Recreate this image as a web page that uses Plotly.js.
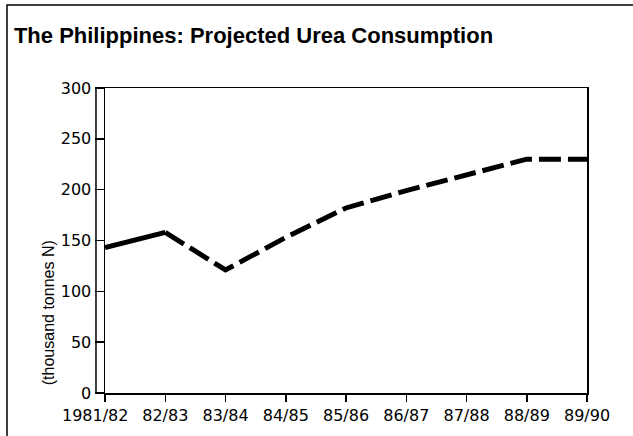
<!DOCTYPE html>
<html>
<head>
<meta charset="utf-8">
<script src="https://cdn.plot.ly/plotly-3.0.1.min.js"></script>
<style>html,body{margin:0;padding:0;background:#fff;}#chart{width:633px;height:436px;}</style>
</head>
<body>
<div id="chart"></div>
<script>
const seasons = ["1981/82","82/83","83/84","84/85","85/86","86/87","87/88","88/89","89/90"];
const consumption = [143, 158, 121, 153, 182, 199, 214, 230, 230];
const yTicks = [0, 50, 100, 150, 200, 250, 300];
const titleText = "The Philippines: Projected Urea Consumption";
const yTitleText = "(thousand tonnes N)";

// first segment drawn solid, remainder dashed
const solidX = seasons.slice(0, 2), solidY = consumption.slice(0, 2);
const dashX = seasons.slice(1), dashY = consumption.slice(1);

// first tick label is set off to the left in the original, drawn as an annotation
const tickText = seasons.map((s, i) => i === 0 ? "" : s);

const tickFont = {family: "DejaVu Sans, sans-serif", size: 16, color: "#000"};

const traces = [
  {x: solidX, y: solidY, type: "scatter", mode: "lines",
   line: {color: "#000", width: 5}, hoverinfo: "skip"},
  {x: dashX, y: dashY, type: "scatter", mode: "lines",
   line: {color: "#000", width: 5, dash: "22px,7px"}, hoverinfo: "skip"}
];

const layout = {
  width: 633, height: 436,
  margin: {l: 105, r: 46, t: 88, b: 43},
  paper_bgcolor: "#fff", plot_bgcolor: "#fff",
  showlegend: false,
  title: {
    text: "<b>" + titleText + "</b>",
    font: {family: "Liberation Sans, Arial, sans-serif", size: 22, color: "#000"},
    x: 0.022, xanchor: "left", xref: "container",
    y: 1 - 35/436, yanchor: "middle", yref: "container"
  },
  xaxis: {
    type: "category", range: [0, seasons.length - 1],
    tickvals: seasons, ticktext: tickText,
    showgrid: false, zeroline: false,
    showline: true, mirror: true, linecolor: "#000", linewidth: 1.5,
    ticks: "outside", ticklen: 7, tickwidth: 1.5, tickcolor: "#000",
    tickfont: tickFont,
    fixedrange: true
  },
  yaxis: {
    range: [0, 300], tickvals: yTicks,
    showgrid: false, zeroline: false,
    showline: true, mirror: true, linecolor: "#000", linewidth: 1.5,
    ticks: "outside", ticklen: 9, tickwidth: 1.5, tickcolor: "#000",
    tickfont: tickFont,
    fixedrange: true
  },
  annotations: [
    {text: yTitleText, textangle: -90, showarrow: false,
     xref: "paper", yref: "paper", x: -0.118, y: 0.262,
     xanchor: "center", yanchor: "middle",
     font: {family: "Liberation Sans, Arial, sans-serif", size: 16, color: "#000"}},
    {text: seasons[0], showarrow: false,
     xref: "x", yref: "paper", x: seasons[0], y: 0,
     xanchor: "center", yanchor: "top", xshift: -10, yshift: -11,
     font: tickFont}
  ],
  shapes: [
    {type: "line", xref: "paper", yref: "paper", x0: -0.0187, x1: -0.0187, y0: 0, y1: 1,
     line: {color: "#000", width: 1.5}},
    {type: "rect", xref: "paper", yref: "paper", x0: -0.2033, x1: 1.2, y0: -0.3, y1: 1.272,
     line: {color: "#000", width: 1.5}}
  ]
};

Plotly.newPlot("chart", traces, layout, {displayModeBar: false, staticPlot: true});
</script>
</body>
</html>
